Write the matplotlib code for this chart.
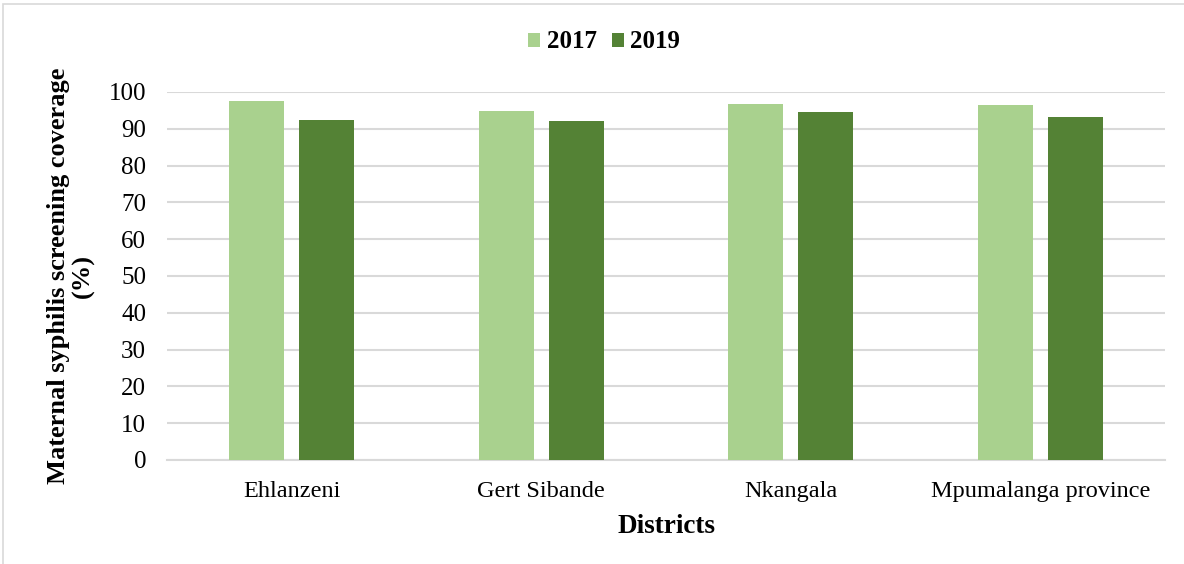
import numpy as np
import matplotlib.pyplot as plt
from matplotlib.patches import Rectangle

plt.rcParams['font.family'] = ['Liberation Serif', 'DejaVu Serif']

districts = ['Ehlanzeni', 'Gert Sibande', 'Nkangala', 'Mpumalanga province']
cov_2017 = [97.6, 94.8, 96.7, 96.6]
cov_2019 = [92.4, 92.2, 94.7, 93.2]

fig = plt.figure(figsize=(11.84, 5.64), dpi=100)
ax = fig.add_axes([167 / 1184, 1 - 460 / 564, (1165 - 167) / 1184, (460 - 92) / 564])

x = np.arange(len(districts))
w = 0.22
ax.bar(x - 0.14, cov_2017, w, color='#A9D18E', label='2017', zorder=3)
ax.bar(x + 0.14, cov_2019, w, color='#548235', label='2019', zorder=3)

ax.set_xlim(-0.5, len(districts) - 0.5)
ax.set_ylim(0, 100)
ax.set_yticks(range(0, 101, 10))
ax.set_xticks(x)
ax.set_xticklabels(districts)
ax.tick_params(length=0, labelsize=18)
ax.tick_params(axis='x', labelsize=17.5, pad=15)
ax.tick_params(axis='y', pad=15)
ax.grid(axis='y', color='#d9d9d9', linewidth=1.5, zorder=0)
for s in ['top', 'right', 'left']:
    ax.spines[s].set_visible(False)
ax.spines['bottom'].set_color('#d9d9d9')
ax.spines['bottom'].set_linewidth(1.5)

ax.set_ylabel('Maternal syphilis screening coverage\n(%)', fontsize=19,
              fontweight='bold', labelpad=10, linespacing=1.1)
ax.set_xlabel('Districts', fontsize=19.5, fontweight='bold', labelpad=9)

fig.legend(loc='center', bbox_to_anchor=(604 / 1184, 1 - 42 / 564), ncol=2,
           frameon=False, prop={'weight': 'bold', 'size': 18},
           handlelength=0.5, handleheight=0.5, handletextpad=0.25, columnspacing=0.6)

# light frame around the chart area
fig.patches.append(Rectangle((3 / 1184, -0.05), 1.0, 1.05 - 4 / 564,
                             transform=fig.transFigure, fill=False,
                             edgecolor='#d9d9d9', linewidth=1.2))

fig.savefig('out.png', dpi=100)
